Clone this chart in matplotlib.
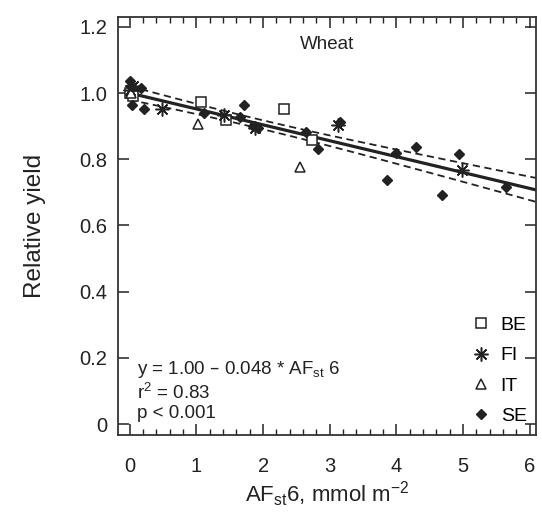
import numpy as np
import matplotlib
matplotlib.use("Agg")
from matplotlib import pyplot as plt
from matplotlib.ticker import MultipleLocator

plt.rcParams['font.family'] = ['Liberation Sans', 'DejaVu Sans']
plt.rcParams['mathtext.default'] = 'regular'

# data (AFst6, relative yield)
be_x = [0.00, 0.05, 1.07, 1.45, 2.31, 2.74]
be_y = [1.00, 0.99, 0.974, 0.92, 0.951, 0.858]

fi_x = [0.00, 0.05, 0.49, 1.41, 1.88, 3.12, 4.99]
fi_y = [1.01, 1.02, 0.951, 0.933, 0.895, 0.903, 0.767]

it_x = [0.02, 1.03, 2.55]
it_y = [1.00, 0.906, 0.777]

se_x = [0.00, 0.02, 0.03, 0.175, 0.21, 1.12, 1.66, 1.72, 1.85, 1.93, 2.64,
        2.82, 3.15, 3.86, 4.00, 4.30, 4.69, 4.94, 5.65]
se_y = [1.035, 1.02, 0.965, 1.014, 0.951, 0.939, 0.927, 0.964, 0.90, 0.893,
        0.883, 0.830, 0.913, 0.737, 0.818, 0.838, 0.692, 0.816, 0.715]

# regression given in the figure
intercept = 1.00
slope = -0.048
line_end = 6.1

ink = '#222222'

# 95% confidence band of the fitted line
all_x = np.array(be_x + fi_x + it_x + se_x)
all_y = np.array(be_y + fi_y + it_y + se_y)
n = len(all_x)
resid = all_y - (intercept + slope * all_x)
s = np.sqrt(np.sum(resid ** 2) / (n - 2))
xbar = all_x.mean()
sxx = np.sum((all_x - xbar) ** 2)

xs = np.linspace(0, line_end, 100)
fit = intercept + slope * xs
half = 2.02 * s * np.sqrt(1 / n + (xs - xbar) ** 2 / sxx)

fig = plt.figure(figsize=(5.42, 5.17), dpi=100)
ax = fig.add_axes([0.2186, 0.1586, 0.771, 0.808])

ax.plot(xs, fit, color=ink, lw=2.3, zorder=2)
ax.plot(xs, fit + half, color=ink, lw=1.3, ls=(0, (4, 2.5)), zorder=2)
ax.plot(xs, fit - half, color=ink, lw=1.3, ls=(0, (4, 2.5)), zorder=2)

ax.plot(be_x, be_y, ls='none', marker='s', ms=7, mfc='white', mec=ink, mew=1.1, label='BE', zorder=3)
ax.plot(fi_x, fi_y, ls='none', marker=(8, 2, 0), ms=10, mec=ink, mew=1.1, label='FI', zorder=3)
ax.plot(it_x, it_y, ls='none', marker='^', ms=7, mfc='white', mec=ink, mew=1.1, label='IT', zorder=3)
ax.plot(se_x, se_y, ls='none', marker='D', ms=5.5, color=ink, label='SE', zorder=3)

ax.set_xlim(-0.17, 6.1)
ax.set_ylim(-0.033, 1.229)
ax.set_xticks(range(7))
ax.set_yticks([0, 0.2, 0.4, 0.6, 0.8, 1.0, 1.2])
ax.set_yticklabels(['0', '0.2', '0.4', '0.6', '0.8', '1.0', '1.2'])
ax.xaxis.set_minor_locator(MultipleLocator(0.2))

ax.tick_params(which='both', direction='in', top=True, right=True, colors=ink, labelsize=14.5)
ax.tick_params(which='major', length=8, width=1.1)
ax.tick_params(which='minor', length=4, width=1.0)
ax.tick_params(axis='x', pad=16)
ax.tick_params(axis='y', pad=8)
for sp in ax.spines.values():
    sp.set_color('#333333')
    sp.set_linewidth(1.3)

ax.set_xlabel('AF$_{st}$6, mmol m$^{-2}$', fontsize=16, color=ink, labelpad=2)
ax.set_ylabel('Relative yield', fontsize=17.5, color=ink, labelpad=24)

ax.text(0.5, 0.955, 'Wheat', transform=ax.transAxes, ha='center', va='top', fontsize=13.5, color=ink)
ax.text(0.045, 0.183, 'y = 1.00 – 0.048 * AF$_{st}$ 6\nr$^2$ = 0.83\np < 0.001',
        transform=ax.transAxes, ha='left', va='top', fontsize=13.5, color=ink, linespacing=1.2)

ax.legend(loc='lower right', frameon=False, fontsize=14, handletextpad=0.4,
          labelspacing=0.66, borderaxespad=0.1, handlelength=1.2)

plt.savefig('out.png', dpi=100)
